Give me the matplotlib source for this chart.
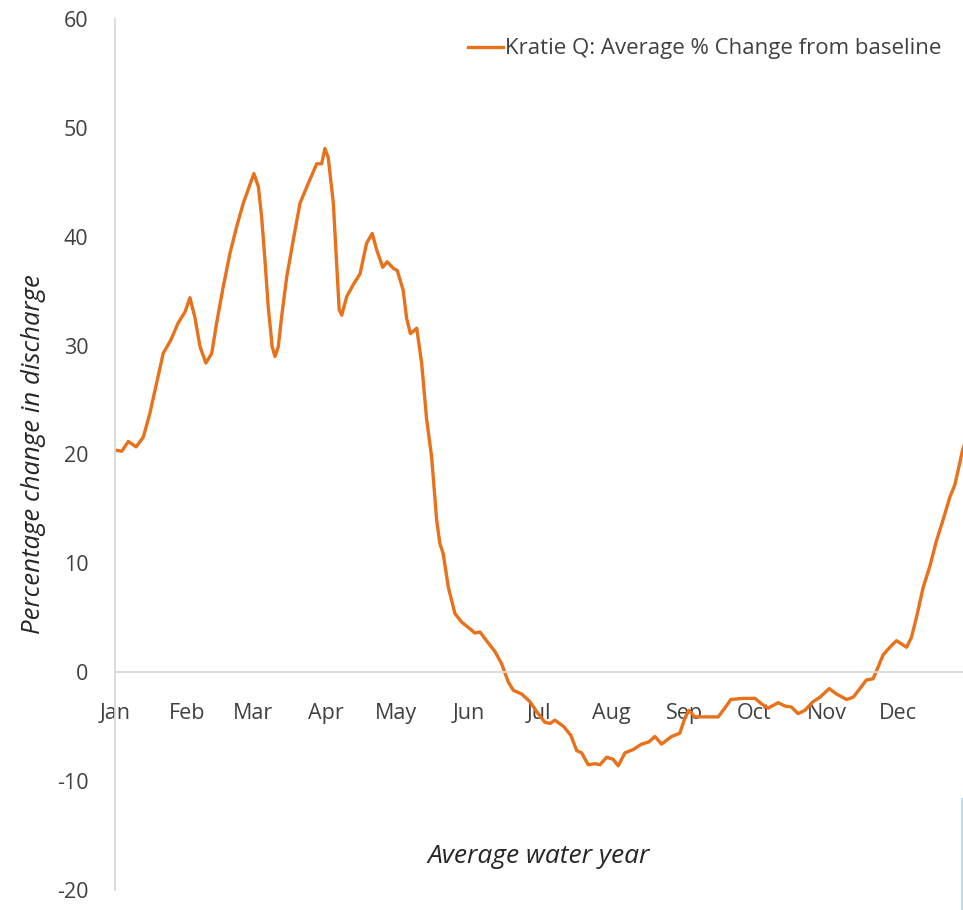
import numpy as np
import matplotlib.pyplot as plt
from matplotlib.patches import Rectangle

# day of year (0 = 1 Jan) and average % change in discharge at Kratie
days = [0, 2.9, 5.7, 9.0, 12.1, 14.9, 17.8, 20.6, 23.8, 27.0, 29.9, 32.0, 34.1, 36.3,
        38.8, 41.3, 43.4, 46.2, 49.1, 51.9, 54.8, 57.3, 59.3, 61.2, 62.6, 64.0, 65.4,
        67.1, 68.3, 69.7, 71.1, 73.3, 76.1, 79.0, 82.5, 86.1, 88.2, 89.6, 91.0, 93.2,
        94.6, 95.7, 96.8, 98.9, 101.7, 104.6, 107.4, 109.8, 111.7, 114.3, 116.2, 118.8,
        120.5, 123.0, 124.5, 126.1, 128.8, 130.9, 133.0, 135.2, 137.3, 138.7, 140.1,
        142.3, 145.1, 148.0, 151.5, 153.6, 155.8, 158.6, 162.2, 165.0, 167.9, 170.0,
        173.6, 177.1, 180.3, 183.5, 185.7, 187.8, 191.6, 194.6, 197.1, 199.2, 202.0,
        204.9, 207.0, 209.9, 212.7, 214.8, 217.7, 221.2, 224.8, 227.9, 230.5, 233.3,
        237.6, 241.1, 243.3, 245.0, 247.5, 252.5, 257.5, 260.3, 262.9, 268.2, 273.2,
        276.0, 278.8, 283.1, 286.0, 288.8, 291.6, 294.5, 298.0, 300.9, 304.9, 308.0,
        312.3, 315.1, 318.0, 320.8, 323.6, 325.8, 327.9, 330.8, 333.6, 335.8, 337.9,
        340.0, 342.2, 345.0, 347.8, 350.7, 353.5, 356.4, 358.5, 360.6, 361.8, 364.0]
pct_change = [20.4, 20.3, 21.2, 20.7, 21.6, 23.8, 26.6, 29.3, 30.5, 32.1, 33.1, 34.4, 32.6, 29.9,
              28.4, 29.3, 32.1, 35.4, 38.5, 40.9, 43.1, 44.6, 45.8, 44.6, 41.8, 37.9, 33.6,
              29.9, 29.0, 29.9, 32.6, 36.3, 39.7, 43.1, 44.9, 46.7, 46.7, 48.1, 47.3, 43.1,
              37.6, 33.3, 32.8, 34.5, 35.6, 36.6, 39.4, 40.3, 38.8, 37.2, 37.7, 37.1,
              36.9, 35.1, 32.5, 31.1, 31.6, 28.4, 23.3, 19.7, 14.0, 11.8, 10.9,
              7.8, 5.4, 4.6, 4.0, 3.6, 3.7, 2.9, 1.9, 0.8, -0.9, -1.65,
              -2.0, -2.7, -3.7, -4.6, -4.7, -4.4, -5.0, -5.8, -7.2, -7.4, -8.5,
              -8.4, -8.5, -7.8, -8.0, -8.6, -7.4, -7.1, -6.6, -6.4, -5.9, -6.6,
              -5.9, -5.6, -4.2, -3.5, -4.1, -4.1, -4.1, -3.3, -2.5, -2.4, -2.4,
              -2.9, -3.3, -2.8, -3.1, -3.2, -3.8, -3.5, -2.7, -2.3, -1.5, -2.0,
              -2.5, -2.3, -1.5, -0.7, -0.6, 0.5, 1.6, 2.3, 2.9, 2.6, 2.3,
              3.2, 5.1, 7.8, 9.7, 12.1, 14.0, 16.1, 17.2, 19.2, 20.4, 21.8]

month_start = [0, 31, 59, 90, 120, 151, 181, 212, 243, 273, 304, 334]
month_names = ['Jan', 'Feb', 'Mar', 'Apr', 'May', 'Jun', 'Jul', 'Aug', 'Sep', 'Oct', 'Nov', 'Dec']
y_ticks = [-20, -10, 0, 10, 20, 30, 40, 50, 60]

plt.rcParams['font.family'] = ['Open Sans', 'DejaVu Sans']
text_col = '#404040'
axis_col = '#d9d9d9'

fig = plt.figure(figsize=(9.63, 9.10), dpi=100)
ax = fig.add_axes([115 / 963, 20 / 910, 1 - 115 / 963, 871 / 910])

ax.plot(days, pct_change, color='#E8711A', linewidth=2.4, solid_joinstyle='round',
        label='Kratie Q: Average % Change from baseline')

ax.set_xlim(0, 362)
ax.set_ylim(-20, 60)
ax.set_yticks(y_ticks)
ax.set_yticklabels([str(v) for v in y_ticks])
ax.set_xticks(month_start)
ax.set_xticklabels(month_names)

# zero line carries the month labels, like the original Excel chart
ax.spines['bottom'].set_position(('data', 0))
ax.spines['bottom'].set_color(axis_col)
ax.spines['bottom'].set_linewidth(1.3)
ax.spines['left'].set_color(axis_col)
ax.spines['left'].set_linewidth(1.3)
ax.spines['top'].set_visible(False)
ax.spines['right'].set_visible(False)
ax.tick_params(axis='both', length=0, labelsize=15.5, colors=text_col)
ax.tick_params(axis='x', pad=22)
ax.tick_params(axis='y', pad=19)

ax.set_ylabel('Percentage change in discharge', fontsize=18.5, style='italic', color='#262626',
              labelpad=8)
ax.text(0.5, 0.038, 'Average water year', transform=ax.transAxes, fontsize=19,
        style='italic', color='#262626', ha='center', va='center')

leg = ax.legend(loc='upper right', bbox_to_anchor=(0.985, 0.988), frameon=False,
                fontsize=16, handlelength=1.55, handletextpad=0.1, borderaxespad=0)
for t in leg.get_texts():
    t.set_color(text_col)

# thin blue strip at the right edge of the screenshot
fig.patches.append(Rectangle((961 / 963, 0), 2 / 963, 112 / 910, transform=fig.transFigure,
                             facecolor='#c5dbe9', edgecolor='none'))

fig.savefig('out.png', dpi=100)
